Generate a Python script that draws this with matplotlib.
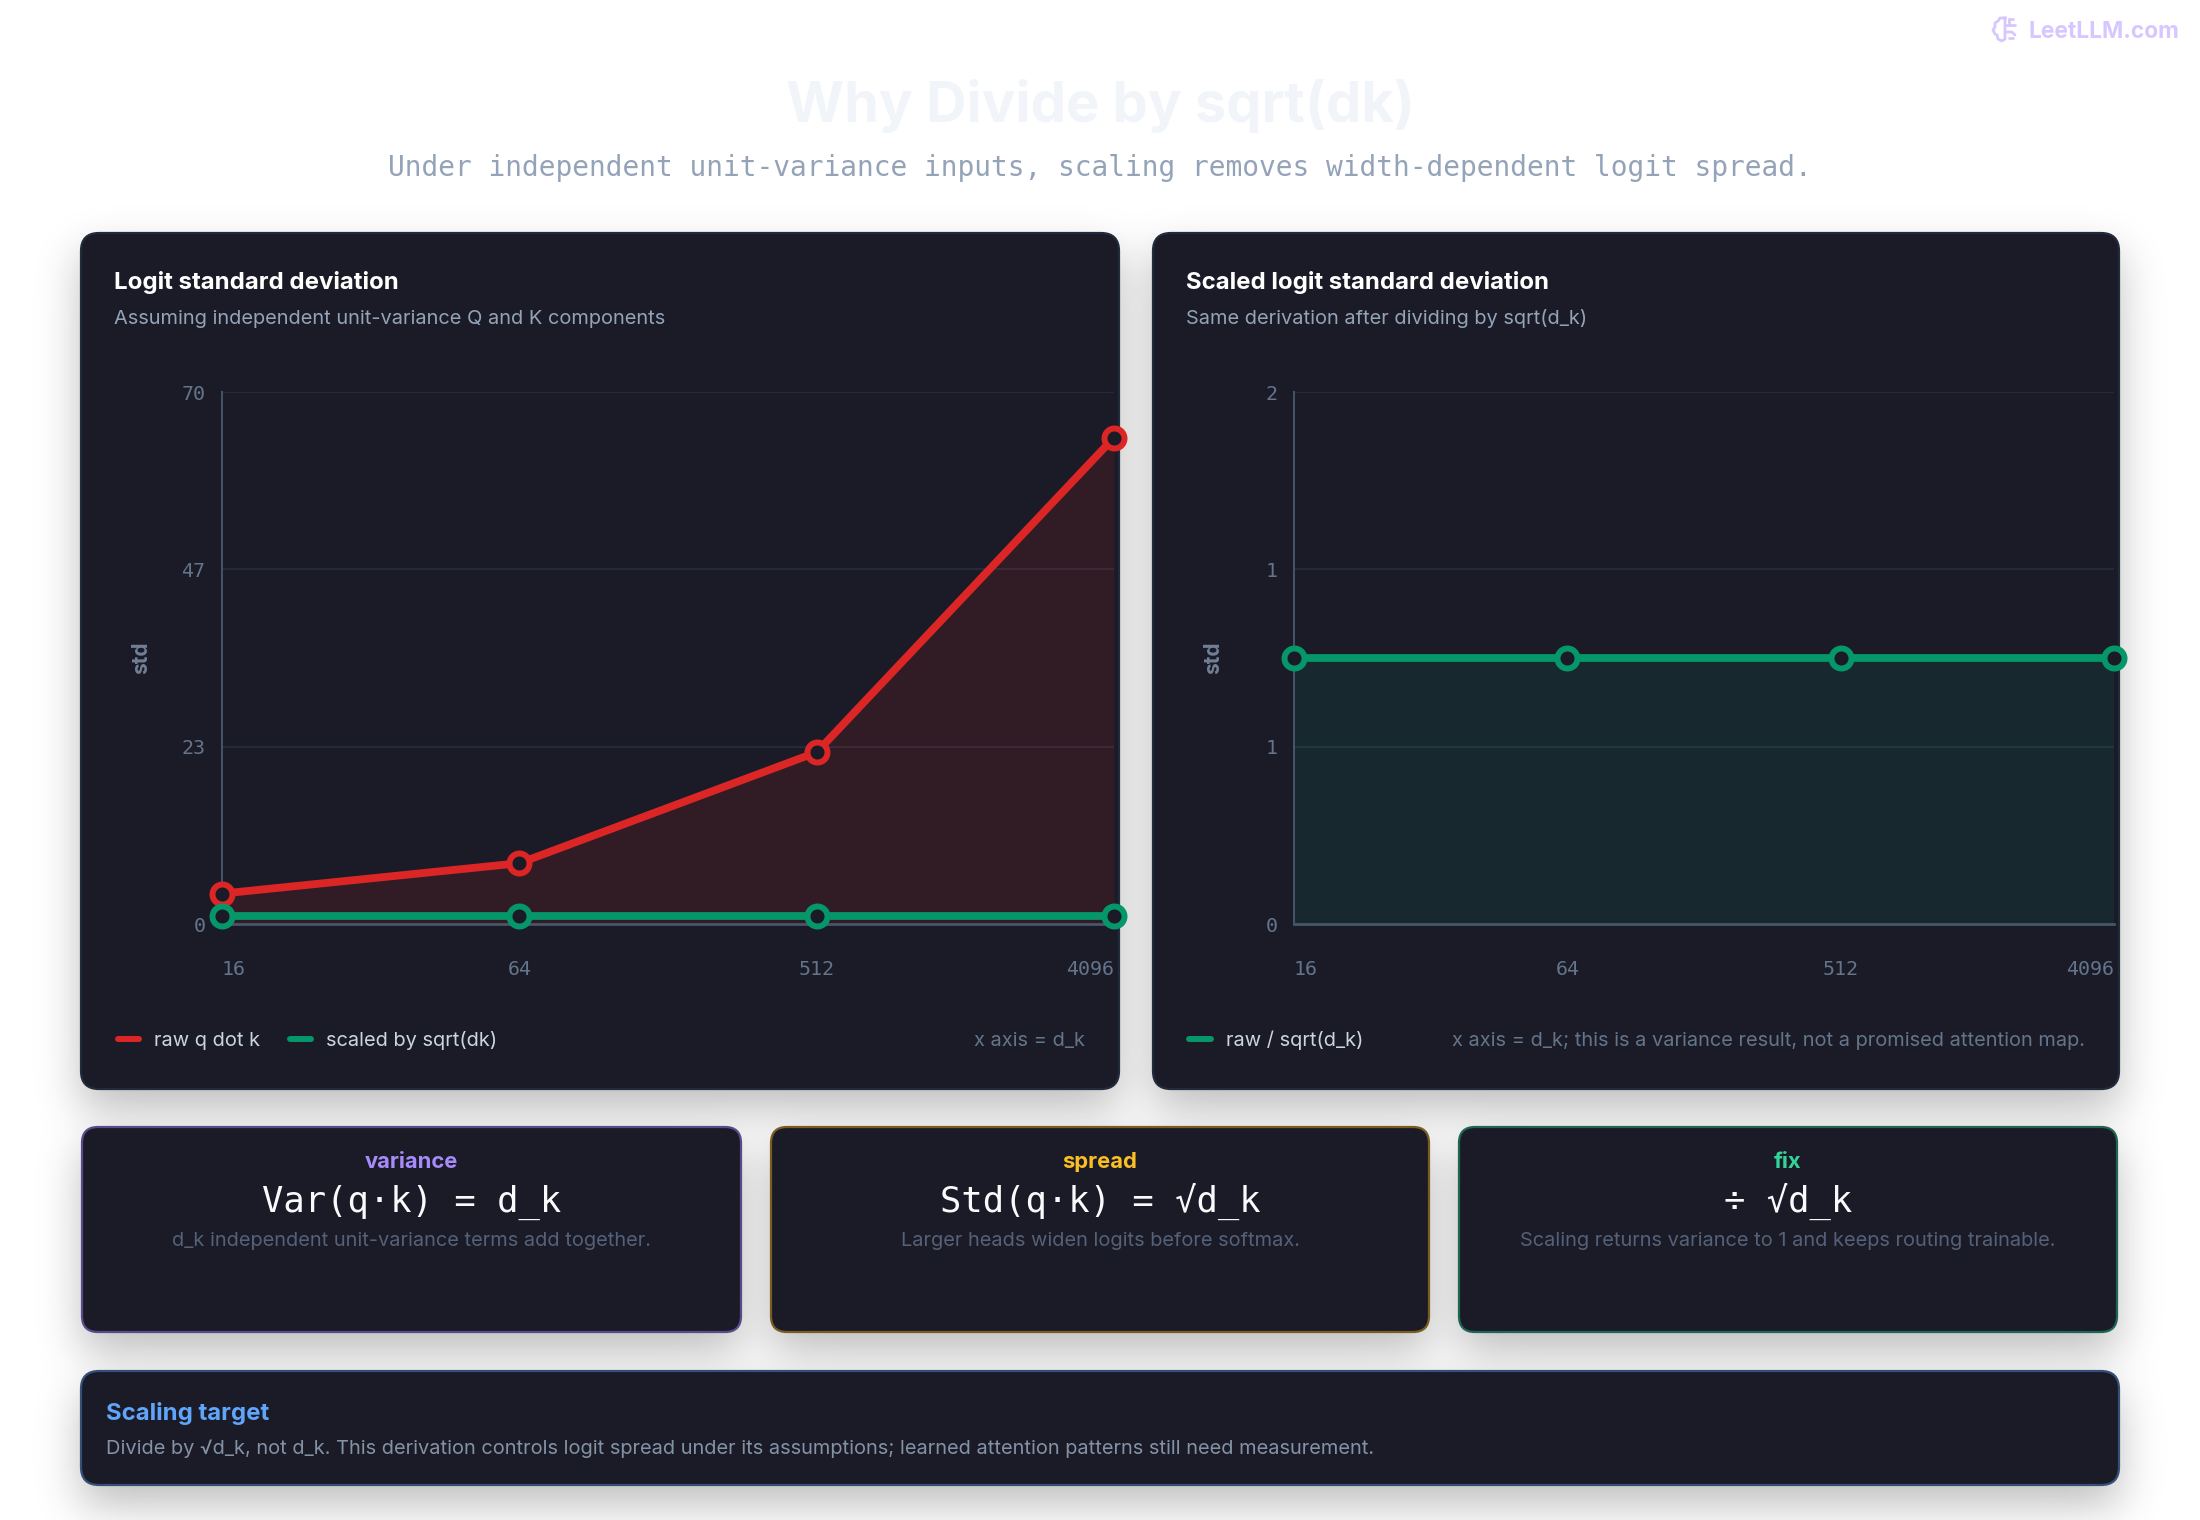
import math
import numpy as np
import matplotlib
matplotlib.use('Agg')
import matplotlib.pyplot as plt
from matplotlib.patches import FancyBboxPatch

# data
d_k = ['16', '64', '512', '4096']
raw_std = [4, 8, 22.6, 64]
scaled_std = [1, 1, 1, 1]
raw_over_sqrt = [1, 1, 1, 1]
left_yticks = [0, 70 / 3, 140 / 3, 70]
right_yticks = [0, 2 / 3, 4 / 3, 2]

W, H = 2200, 1520
BG = '#1a1b26'
RED = '#dc2626'
GREEN = '#059669'
SANS = ['Inter', 'DejaVu Sans']
MONO = ['DejaVu Sans Mono']

plt.rcParams['font.family'] = SANS
fig = plt.figure(figsize=(W / 100, H / 100), dpi=100, facecolor='white')

# full page layer in pixel coordinates, y going down
page = fig.add_axes([0, 0, 1, 1], zorder=0)
page.set_xlim(0, W)
page.set_ylim(H, 0)
page.axis('off')

big_cards = [(81, 233, 1119, 1089), (1153, 233, 2119, 1089)]
stat_cards = [(82, 1127, 741, 1332), (771, 1127, 1429, 1332), (1459, 1127, 2117, 1332)]
note_card = (81, 1371, 2119, 1485)


# soft drop shadow for a box, from the erf of each edge
def shadow_mask(box, dy=20, sigma=22):
    x0, y0, x1, y1 = box
    erf = np.vectorize(math.erf)
    xs = np.arange(W) + 0.5
    ys = np.arange(H) + 0.5
    s = sigma * math.sqrt(2)
    mx = 0.5 * (erf((xs - x0) / s) - erf((xs - x1) / s))
    my = 0.5 * (erf((ys - y0 - dy) / s) - erf((ys - y1 - dy) / s))
    return np.outer(my, mx)


light = np.ones((H, W))
for b in big_cards + stat_cards + [note_card]:
    light *= 1 - 0.26 * shadow_mask(b)
page.imshow(light, cmap='gray', vmin=0, vmax=1, extent=(0, W, H, 0), aspect='auto', zorder=0)
page.set_xlim(0, W)
page.set_ylim(H, 0)


def card(box, edge, radius):
    x0, y0, x1, y1 = box
    page.add_patch(FancyBboxPatch((x0, y0), x1 - x0, y1 - y0,
                                  boxstyle=f'round,pad=0,rounding_size={radius}',
                                  fc=BG, ec=edge, lw=1.6, zorder=1))


def txt(x, y, s, px, color, family=SANS, weight='normal', ha='left'):
    page.text(x, y, s, fontsize=px * 0.72, color=color, family=family, weight=weight,
              ha=ha, va='baseline', zorder=3)


for b in big_cards:
    card(b, '#222b3c', 18)
card(stat_cards[0], '#5a4a8c', 16)
card(stat_cards[1], '#7a5c20', 16)
card(stat_cards[2], '#1e6552', 16)
card(note_card, '#345078', 18)

# header
txt(1100, 122, 'Why Divide by sqrt(dk)', 56, '#f1f5f9', weight='bold', ha='center')
txt(1100, 176, 'Under independent unit-variance inputs, scaling removes width-dependent logit spread.',
    27.85, '#94a3b8', family=MONO, ha='center')

# watermark, brain outline plus the site name
wm = '#d6c8ff'
lobes = np.array([[2005, 18], [2000, 18], [1998, 21], [1995, 23], [1995, 27], [1993, 30], [1995, 34],
                  [1997, 35], [1998, 39], [2002, 41], [2005, 39], [2005, 18]])
page.plot(lobes[:, 0], lobes[:, 1], color=wm, lw=2, solid_joinstyle='round', zorder=3)
for seg in [[(2005, 25), (2015, 25)], [(2005, 32), (2012, 32), (2015, 35)], [(2009, 19), (2013, 19)],
            [(2009, 19), (2009, 25)], [(2009, 38), (2013, 38)]]:
    seg = np.array(seg)
    page.plot(seg[:, 0], seg[:, 1], color=wm, lw=2, solid_capstyle='round', zorder=3)
txt(2029, 38.5, 'LeetLLM.com', 22.8, wm, weight='bold')

# left card text
txt(114, 289, 'Logit standard deviation', 24, '#ffffff', weight='bold')
txt(114, 324, 'Assuming independent unit-variance Q and K components', 20, '#94a3b8')
page.plot([118, 139], [1039, 1039], color=RED, lw=4.3, solid_capstyle='round', zorder=3)
txt(154, 1046, 'raw q dot k', 20, '#cbd5e1')
page.plot([290, 311], [1039, 1039], color=GREEN, lw=4.3, solid_capstyle='round', zorder=3)
txt(326, 1046, 'scaled by sqrt(dk)', 20, '#cbd5e1')
txt(1085, 1046, 'x axis = d_k', 20, '#64748b', ha='right')

# right card text
txt(1186, 289, 'Scaled logit standard deviation', 24, '#ffffff', weight='bold')
txt(1186, 324, 'Same derivation after dividing by sqrt(d_k)', 20, '#94a3b8')
page.plot([1189, 1211], [1039, 1039], color=GREEN, lw=4.3, solid_capstyle='round', zorder=3)
txt(1226, 1046, 'raw / sqrt(d_k)', 20, '#cbd5e1')
txt(2085, 1046, 'x axis = d_k; this is a variance result, not a promised attention map.', 20, '#64748b', ha='right')

# three stat boxes
stats = [('variance', 'Var(q·k) = d_k', 'd_k independent unit-variance terms add together.', '#a78bfa'),
         ('spread', 'Std(q·k) = √d_k', 'Larger heads widen logits before softmax.', '#fbbf24'),
         ('fix', '÷ √d_k', 'Scaling returns variance to 1 and keeps routing trainable.', '#34d399')]
for b, (label, formula, desc, col) in zip(stat_cards, stats):
    cx = (b[0] + b[2]) / 2
    txt(cx, 1168, label, 22, col, weight='bold', ha='center')
    txt(cx, 1212, formula, 35.5, '#f8fafc', family=MONO, ha='center')
    txt(cx, 1246, desc, 20, '#556178', ha='center')

# bottom note
txt(106, 1420, 'Scaling target', 24, '#60a5fa', weight='bold')
txt(106, 1454, 'Divide by √d_k, not d_k. This derivation controls logit spread under its assumptions; '
    'learned attention patterns still need measurement.', 20, '#8492a6')


def panel(x0, x1, ymax, yticks, labelpad):
    top, bottom = 392, 924
    ax = fig.add_axes([x0 / W, 1 - bottom / H, (x1 - x0) / W, (bottom - top) / H], zorder=2)
    ax.patch.set_alpha(0)
    ax.set_xlim(0, len(d_k) - 1)
    ax.set_ylim(0, ymax)
    for name in ['top', 'right']:
        ax.spines[name].set_visible(False)
    ax.spines['left'].set_color('#475569')
    ax.spines['left'].set_linewidth(1.4)
    ax.spines['bottom'].set_color('#475569')
    ax.spines['bottom'].set_linewidth(2)
    ax.set_yticks(yticks)
    ax.set_yticklabels([f'{v:.0f}' for v in yticks], family=MONO, fontsize=14.4, color='#64748b')
    ax.set_xticks(range(len(d_k)))
    ax.set_xticklabels(d_k, family=MONO, fontsize=14.4, color='#64748b')
    labels = ax.get_xticklabels()
    labels[0].set_ha('left')
    labels[-1].set_ha('right')
    ax.tick_params(axis='both', length=0)
    ax.tick_params(axis='x', pad=26)
    ax.tick_params(axis='y', pad=12)
    ax.grid(axis='y', color='#263042', lw=1.1)
    ax.set_axisbelow(True)
    ax.set_ylabel('std', family=SANS, fontsize=15, weight='bold', color='#718096', labelpad=labelpad)
    return ax


def series(ax, values, color):
    xs = range(len(d_k))
    ax.fill_between(xs, values, 0, color=color, alpha=0.12, lw=0, zorder=2)
    ax.plot(xs, values, color=color, lw=5.6, marker='o', ms=14.4, mew=4.3, mfc=BG, mec=color,
            clip_on=False, zorder=4)


ax1 = panel(222, 1114, 70, left_yticks, 22)
series(ax1, raw_std, RED)
ax1.plot(range(len(d_k)), scaled_std, color=GREEN, lw=5.6, marker='o', ms=14.4, mew=4.3, mfc=BG,
         mec=GREEN, clip_on=False, zorder=5)

ax2 = panel(1294, 2114, 2, right_yticks, 30)
series(ax2, raw_over_sqrt, GREEN)

fig.savefig('out.png', dpi=100, facecolor='white')
